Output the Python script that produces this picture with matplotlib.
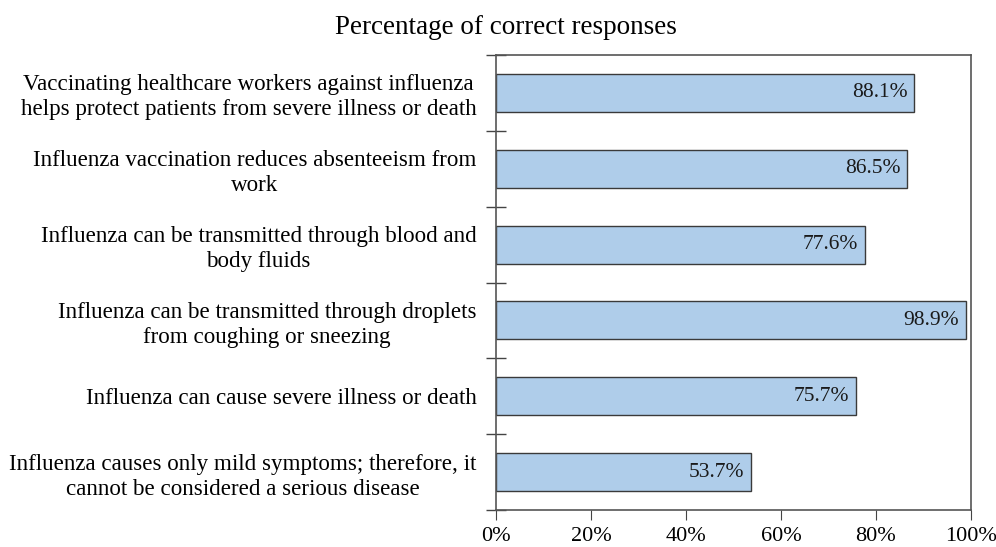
import matplotlib
matplotlib.use("Agg")
import matplotlib.pyplot as plt
from matplotlib.ticker import FixedLocator, PercentFormatter

categories = [
    "Vaccinating healthcare workers against influenza\nhelps protect patients from severe illness or death",
    "Influenza vaccination reduces absenteeism from\nwork",
    "Influenza can be transmitted through blood and\nbody fluids",
    "Influenza can be transmitted through droplets\nfrom coughing or sneezing",
    "Influenza can cause severe illness or death",
    "Influenza causes only mild symptoms; therefore, it\ncannot be considered a serious disease",
]
values = [88.1, 86.5, 77.6, 98.9, 75.7, 53.7]
x_ticks = [0, 20, 40, 60, 80, 100]
title = "Percentage of correct responses"

plt.rcParams['font.family'] = ['Liberation Serif', 'DejaVu Serif']

fig = plt.figure(figsize=(9.96, 5.47), dpi=100)
ax = fig.add_axes([496/996, 1-510/547, (971-496)/996, (510-55)/547])

n = len(categories)
ypos = list(range(n))
ax.barh(ypos, values, height=0.5, color='#afcdea', edgecolor='#3a3a3a', linewidth=1.0)
for y, v in zip(ypos, values):
    ax.text(v - 1.4, y, f"{v:.1f}%", ha='right', va='center', fontsize=15.5, color='#1a1a1a')

ax.set_xlim(0, 100)
ax.set_ylim(n - 0.5, -0.5)
ax.set_yticks(ypos)
ax.set_yticklabels(categories, fontsize=16.6, linespacing=1.25)
for t in ax.get_yticklabels():
    t.set_multialignment('center')
ax.tick_params(axis='y', which='major', length=0, pad=14)
ax.yaxis.set_minor_locator(FixedLocator([i - 0.5 for i in range(n + 1)]))
ax.tick_params(axis='y', which='minor', length=15, direction='inout', width=1.0, color='#444444')

ax.set_xticks(x_ticks)
ax.xaxis.set_major_formatter(PercentFormatter(decimals=0))
ax.tick_params(axis='x', which='major', length=7, direction='out', labelsize=16, pad=5, color='#444444')

for s in ax.spines.values():
    s.set_color('#555555')
    s.set_linewidth(1.2)

fig.text(0.508, 0.95, title, ha='center', va='center', fontsize=19.5)

fig.savefig('out.png', dpi=100)
